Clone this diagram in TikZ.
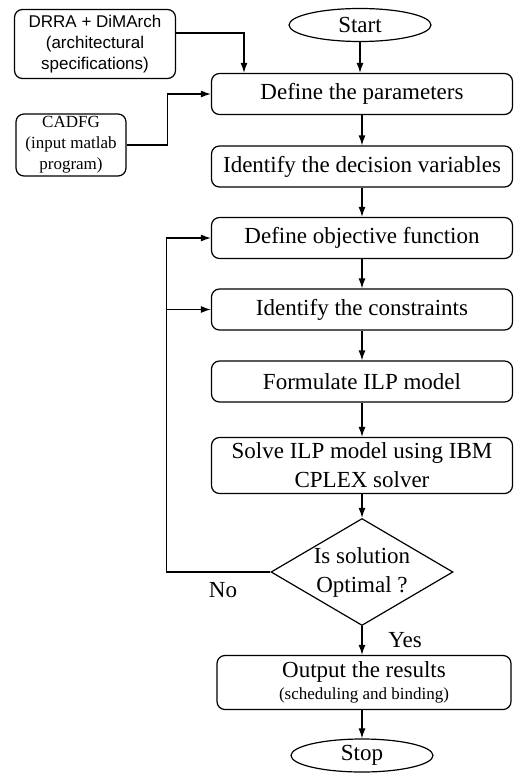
\documentclass[tikz,border=0pt]{standalone}
\usepackage{fontspec}
\setmainfont{Liberation Serif}
\newfontfamily\arialfont{Liberation Sans}
\usepackage{tikz}
\usetikzlibrary{positioning,arrows.meta,shapes.geometric}
\newcommand{\mainsize}{\fontsize{23}{29}\selectfont}
\newcommand{\notesize}{\fontsize{17}{21}\selectfont}
\tikzset{flowbox/.style={draw, rounded corners=2.8mm, line width=1.2pt, align=center, minimum width=301pt, minimum height=41pt, inner sep=2pt, font=\mainsize}, flowterm/.style={draw, ellipse, line width=1.2pt, minimum width=142pt, minimum height=33pt, inner sep=0pt, font=\mainsize}, flowcheck/.style={draw, diamond, aspect=1.7, line width=1.2pt, align=center, minimum width=182pt, minimum height=107pt, inner sep=0pt, font=\mainsize}, flowinput/.style={draw, rounded corners=2.8mm, line width=1.2pt, align=center, inner sep=2pt, font=\notesize}, flowarrow/.style={-{Latex[length=10pt,width=7pt]}, line width=1.2pt}, flowlabel/.style={font=\mainsize, inner sep=0pt}}

\begin{document}
\begin{tikzpicture}[x=1pt, y=1pt, node distance=29pt]
\useasboundingbox (0,0) rectangle (518,-773);
\node[flowterm] (start) at (360,-25) {Start};
\node[flowbox] (params) at (362,-94) {Define the parameters};
\node[flowbox] (decvars) at (362,-166.5) {Identify the decision variables};
\node[flowbox] (objective) at (362,-238) {Define objective function};
\node[flowbox] (constr) at (362,-309.5) {Identify the constraints};
\node[flowbox] (formulate) at (362,-381.5) {Formulate ILP model};
\node[flowbox, minimum height=56pt] (solve) at (362,-465.5) {Solve ILP model using IBM\\CPLEX solver};
\node[flowcheck] (optimal) at (362,-572) {Is solution\\Optimal ?};
\node[flowbox, minimum width=294pt, minimum height=54pt, font=\fontsize{23}{24}\selectfont] (output) at (364,-682.5) {Output the results\\[-2pt]{\notesize (scheduling and binding)}};
\node[flowterm] (stop) at (362,-755.5) {Stop};
\node[flowinput, minimum width=161pt, minimum height=69pt, font=\arialfont\notesize] (drra) at (95,-44) {DRRA + DiMArch\\(architectural\\specifications)};
\node[flowinput, minimum width=110pt, minimum height=62pt] (cadfg) at (71,-145) {CADFG\\(input matlab\\program)};
\node[flowlabel] (yes) at (405,-640) {Yes};
\node[flowlabel] (no) at (223,-590) {No};
\draw[flowarrow] (start) -- (start |- params.north);
\draw[flowarrow] (params) -- (decvars);
\draw[flowarrow] (decvars) -- (objective);
\draw[flowarrow] (objective) -- (constr);
\draw[flowarrow] (constr) -- (formulate);
\draw[flowarrow] (formulate) -- (solve);
\draw[flowarrow] (solve) -- (optimal);
\draw[flowarrow] (optimal) -- (optimal |- output.north);
\draw[flowarrow] (output.south -| stop) -- (stop);
\draw[flowarrow] ([yshift=11pt]drra.east) -| ([xshift=-118pt]params.north);
\draw[flowarrow] (cadfg.east) -- ++(41,0) |- (params.west);
\draw[flowarrow] (optimal.west) -- ++(-104,0) |- (objective.west);
\draw[flowarrow] ([xshift=-104pt]optimal.west) |- (constr.west);
\end{tikzpicture}
\end{document}
